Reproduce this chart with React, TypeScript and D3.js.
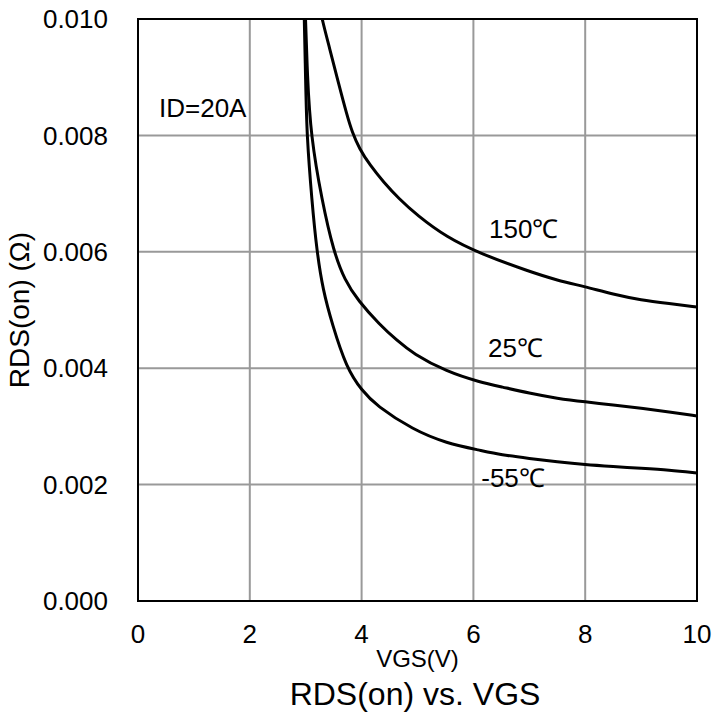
import React from "react";
import * as d3 from "d3";

const xTicks = [0, 2, 4, 6, 8, 10];
const yTicks = [0, 0.002, 0.004, 0.006, 0.008, 0.01];

const vgsM55 = [2.97, 3.0, 3.02, 3.11, 3.2, 3.31, 3.47, 3.73, 4.01, 4.26, 4.92, 5.52, 6.12, 6.5, 7.0, 7.5, 8.0, 8.5, 9.0, 9.5, 10.0];
const rdsM55 = [0.0102, 0.0089, 0.008, 0.00688, 0.006, 0.00534, 0.00477, 0.004, 0.00361, 0.00336, 0.00294, 0.00271, 0.00259, 0.00251, 0.00245, 0.00239, 0.00234, 0.00231, 0.00228, 0.00225, 0.0022];

const vgs25 = [2.99, 3.03, 3.09, 3.29, 3.5, 3.7, 3.93, 4.33, 4.63, 4.92, 5.52, 6.12, 6.5, 7.0, 7.5, 8.0, 8.5, 9.0, 9.5, 10.0];
const rds25 = [0.0102, 0.009, 0.008, 0.00688, 0.006, 0.00551, 0.00517, 0.00474, 0.00448, 0.00425, 0.00394, 0.00376, 0.00368, 0.00357, 0.00348, 0.00342, 0.00337, 0.00331, 0.00325, 0.00318];

const vgs150 = [3.26, 3.29, 3.43, 3.58, 3.74, 3.83, 3.96, 4.15, 4.39, 4.67, 4.99, 5.52, 6.12, 7.0, 7.5, 8.0, 8.5, 9.0, 9.5, 10.0];
const rds150 = [0.0102, 0.01, 0.00949, 0.00892, 0.00834, 0.00806, 0.00777, 0.00749, 0.0072, 0.00691, 0.00663, 0.00625, 0.00597, 0.00566, 0.00551, 0.0054, 0.00527, 0.00517, 0.00511, 0.00505];

const seriesNames = ["150℃", "25℃", "-55℃"];
const labelV = [6.28, 6.26, 6.14];
const labelR = [0.00624, 0.00419, 0.00196];

const FONT = "'Liberation Sans', Arial, sans-serif";

export default function App() {
  const W = 713;
  const H = 720;
  const left = 138, right = 697, top = 19, bottom = 601;
  const x = d3.scaleLinear().domain([0, 10]).range([left, right]);
  const y = d3.scaleLinear().domain([0, 0.01]).range([bottom, top]);

  const line = d3
    .line<[number, number]>()
    .x((d) => x(d[0]))
    .y((d) => y(d[1]))
    .curve(d3.curveBasis);

  const series = [
    d3.zip(vgs150, rds150) as [number, number][],
    d3.zip(vgs25, rds25) as [number, number][],
    d3.zip(vgsM55, rdsM55) as [number, number][],
  ];

  return (
    <svg
      width={W}
      height={H}
      style={{ position: "absolute", left: 0, top: 0, background: "#fff" }}
      fontFamily={FONT}
    >
      <rect x={0} y={0} width={W} height={H} fill="#fff" />
      <defs>
        <clipPath id="plotclip">
          <rect x={left} y={top} width={right - left} height={bottom - top} />
        </clipPath>
      </defs>
      {xTicks.map((t) => (
        <line key={"gx" + t} x1={x(t)} x2={x(t)} y1={top} y2={bottom} stroke="#999" strokeWidth={2} />
      ))}
      {yTicks.map((t) => (
        <line key={"gy" + t} x1={left} x2={right} y1={y(t)} y2={y(t)} stroke="#999" strokeWidth={2} />
      ))}
      <g clipPath="url(#plotclip)">
        {series.map((s, i) => (
          <path key={i} d={line(s) || ""} fill="none" stroke="#000" strokeWidth={3} strokeLinejoin="round" />
        ))}
      </g>
      <rect x={left} y={top} width={right - left} height={bottom - top} fill="none" stroke="#000" strokeWidth={2} />
      {yTicks.map((t) => (
        <text key={"ty" + t} x={108} y={y(t)} dy="0.35em" textAnchor="end" fontSize={26} fill="#000">
          {t.toFixed(3)}
        </text>
      ))}
      {xTicks.map((t) => (
        <text key={"tx" + t} x={x(t)} y={643} textAnchor="middle" fontSize={26} fill="#000">
          {t}
        </text>
      ))}
      <text x={x(5)} y={667} textAnchor="middle" fontSize={24} fill="#000">VGS(V)</text>
      <text
        transform={`translate(29, ${(top + bottom) / 2}) rotate(-90)`}
        textAnchor="middle"
        fontSize={28}
        fill="#000"
      >
        RDS(on) (Ω)
      </text>
      <text x={159} y={117} fontSize={26} fill="#000">ID=20A</text>
      {seriesNames.map((n, i) => (
        <text key={n} x={x(labelV[i])} y={y(labelR[i])} fontSize={26} fill="#000">
          {n}
        </text>
      ))}
      <text x={415} y={705} textAnchor="middle" fontSize={32} fill="#000">RDS(on) vs. VGS</text>
    </svg>
  );
}
